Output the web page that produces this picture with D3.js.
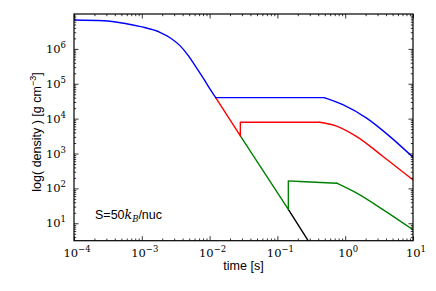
<!DOCTYPE html>
<html>
<head>
<meta charset="utf-8">
<script src="https://cdn.jsdelivr.net/npm/d3@7"></script>
<style>
  body { margin: 0; background: #fff; }
  text { fill: #000; }
</style>
</head>
<body>
<svg id="chart" width="436" height="291"></svg>
<script>
'use strict';

// values: [time in s, density in g/cm^3]
var baseTrack = [
  [1.0e-4, 6.73e6], [2.77e-4, 6.43e6], [5.46e-4, 5.42e6], [9.64e-4, 4.33e6],
  [1.85e-3, 2.99e6], [2.61e-3, 2.09e6], [3.66e-3, 1.24e6], [4.85e-3, 6.38e5],
  [6.10e-3, 3.31e5], [8.07e-3, 1.44e5], [1.01e-2, 7.10e4], [1.23e-2, 4.0e4]
];
// straight pieces (plateaus, jumps, homologous t^-3 part)
var blueFlat = [[1.23e-2, 4.0e4], [0.49, 4.0e4]];
var redFlat = [[1.23e-2, 4.0e4], [2.84e-2, 3.2e3], [2.84e-2, 7.9e3], [0.42, 7.9e3]];
var greenFlat = [[2.84e-2, 3.2e3], [0.145, 25], [0.145, 164], [0.215, 157], [0.75, 141]];
var blackFlat = [[0.145, 25], [0.32, 2.2]];
// curved tails at late times
var blueTail = [[0.49, 4.0e4], [0.94, 2.47e4], [2.07, 1.03e4], [4.58, 3.05e3], [10, 7.8e2]];
var redTail = [[0.42, 7.9e3], [0.71, 6.3e3], [1.48, 3.05e3], [3.65, 8.1e2], [10, 1.75e2]];
var greenTail = [[0.75, 141], [1.48, 72.8], [3.65, 24.2], [10, 6.5]];

var xTickExp = [-4, -3, -2, -1, 0, 1];
var yTickExp = [1, 2, 3, 4, 5, 6];
var note = 'S=50';

var svg = d3.select('#chart');

var x = d3.scaleLog().domain([1e-4, 10]).range([74, 413]);
var y = d3.scaleLog().domain([Math.pow(10, 0.5), 1e7]).range([240.7, 14]);

//clip region for the curves
svg.append('defs').append('clipPath').attr('id', 'clip')
  .append('rect')
    .attr('x', x.range()[0]).attr('y', y.range()[1])
    .attr('width', x.range()[1] - x.range()[0])
    .attr('height', y.range()[0] - y.range()[1]);

var straight = d3.line()
  .x(function (d) { return x(d[0]); })
  .y(function (d) { return y(d[1]); });
var smooth = d3.line()
  .x(function (d) { return x(d[0]); })
  .y(function (d) { return y(d[1]); })
  .curve(d3.curveMonotoneX);

// draw order: black under green under red under blue
var pieces = [
  {color: '#000000', pts: blackFlat, gen: straight},
  {color: '#008000', pts: greenFlat, gen: straight},
  {color: '#008000', pts: greenTail, gen: smooth},
  {color: '#ff0000', pts: redFlat, gen: straight},
  {color: '#ff0000', pts: redTail, gen: smooth},
  {color: '#0000ff', pts: blueFlat, gen: straight},
  {color: '#0000ff', pts: blueTail, gen: smooth},
  {color: '#0000ff', pts: baseTrack, gen: smooth}
];

svg.append('g').attr('clip-path', 'url(#clip)')
  .selectAll('path')
  .data(pieces)
  .enter().append('path')
    .attr('d', function (d) { return d.gen(d.pts); })
    .attr('fill', 'none')
    .attr('stroke', function (d) { return d.color; })
    .attr('stroke-width', 1.4)
    .attr('stroke-linecap', 'round')
    .attr('stroke-linejoin', 'round');

//minor tick values for a log scale
function minors(dom) {
  var out = [];
  var lo = Math.floor(Math.log10(dom[0])), hi = Math.ceil(Math.log10(dom[1]));
  for (var e = lo; e <= hi; e++) {
    for (var m = 2; m <= 9; m++) {
      var v = m * Math.pow(10, e);
      if (v >= dom[0] && v <= dom[1]) out.push(v);
    }
  }
  return out;
}

var xMaj = xTickExp.map(function (e) { return Math.pow(10, e); });
var yMaj = yTickExp.map(function (e) { return Math.pow(10, e); });

// inward ticks on all four sides (classic matplotlib look)
function ticks(axisGen, vals, len, tx) {
  var g = svg.append('g').attr('transform', tx);
  g.call(axisGen.tickValues(vals).tickSize(-len).tickFormat(''));
  g.select('.domain').remove();
  g.selectAll('line').attr('stroke', '#000').attr('stroke-width', 0.8);
  return g;
}
var bottomY = y.range()[0], topY = y.range()[1];
var leftX = x.range()[0], rightX = x.range()[1];

ticks(d3.axisBottom(x), xMaj, 4.5, 'translate(0,' + bottomY + ')');
ticks(d3.axisBottom(x), minors(x.domain()), 2.2, 'translate(0,' + bottomY + ')');
ticks(d3.axisTop(x), xMaj, 4.5, 'translate(0,' + topY + ')');
ticks(d3.axisTop(x), minors(x.domain()), 2.2, 'translate(0,' + topY + ')');
ticks(d3.axisLeft(y), yMaj, 4.5, 'translate(' + leftX + ',0)');
ticks(d3.axisLeft(y), minors(y.domain()), 2.2, 'translate(' + leftX + ',0)');
ticks(d3.axisRight(y), yMaj, 4.5, 'translate(' + rightX + ',0)');
ticks(d3.axisRight(y), minors(y.domain()), 2.2, 'translate(' + rightX + ',0)');

//frame
svg.append('rect')
  .attr('x', leftX).attr('y', topY)
  .attr('width', rightX - leftX).attr('height', bottomY - topY)
  .attr('fill', 'none').attr('stroke', '#000').attr('stroke-width', 1.2);

var serif = '"DejaVu Serif", "Liberation Serif", serif';
var sans = '"Liberation Sans", Arial, sans-serif';

function powLabel(sel, e) {
  sel.append('tspan').text('10');
  sel.append('tspan').attr('dy', -5).attr('font-size', 8.5)
    .text(e < 0 ? '\u2212' + (-e) : String(e));
}

svg.append('g').selectAll('text')
  .data(xTickExp)
  .enter().append('text')
    .attr('x', function (d) { return x(Math.pow(10, d)) + 3; })
    .attr('y', 257)
    .attr('text-anchor', 'middle')
    .attr('font-family', serif).attr('font-size', 11.5)
    .each(function (d) { powLabel(d3.select(this), d); });

svg.append('g').selectAll('text')
  .data(yTickExp)
  .enter().append('text')
    .attr('x', 66)
    .attr('y', function (d) { return y(Math.pow(10, d)) + 4; })
    .attr('text-anchor', 'end')
    .attr('font-family', serif).attr('font-size', 11.5)
    .each(function (d) { powLabel(d3.select(this), d); });

//axis titles
svg.append('text')
  .attr('x', (leftX + rightX) / 2).attr('y', 270)
  .attr('text-anchor', 'middle')
  .attr('font-family', sans).attr('font-size', 12.5)
  .text('time [s]');

var yl = svg.append('text')
  .attr('transform', 'translate(41,132) rotate(-90)')
  .attr('text-anchor', 'middle')
  .attr('font-family', sans).attr('font-size', 12.5);
yl.append('tspan').text('log( density ) [g cm');
yl.append('tspan').attr('dy', -5).attr('font-size', 9).text('\u22123');
yl.append('tspan').attr('dy', 5).text(']');

//annotation
var ann = svg.append('text')
  .attr('x', 95).attr('y', 218.5)
  .attr('font-family', sans).attr('font-size', 12.5);
ann.append('tspan').text(note);
ann.append('tspan').attr('font-family', serif).attr('font-style', 'italic').text('k');
ann.append('tspan').attr('dy', 3).attr('font-size', 8.5)
  .attr('font-family', serif).attr('font-style', 'italic').text('B');
ann.append('tspan').attr('dy', -3).text('/nuc');
</script>
</body>
</html>
